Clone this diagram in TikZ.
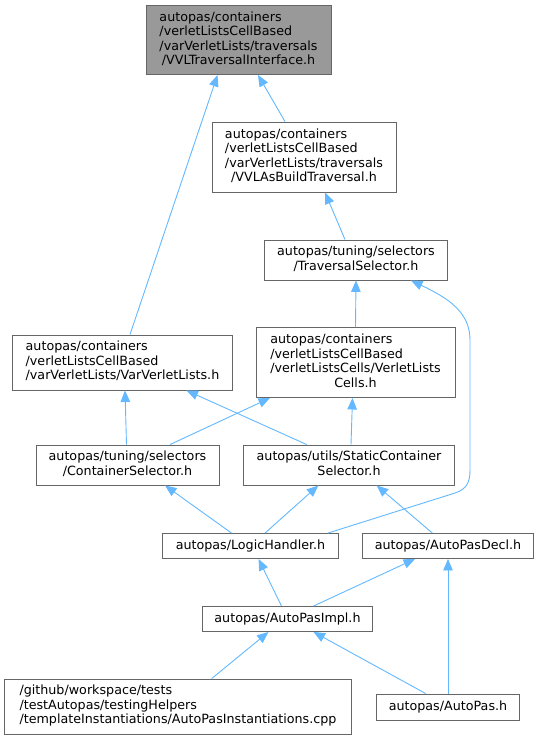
\documentclass[tikz,border=0pt]{standalone}
\usepackage{fontspec}
\setmainfont{DejaVu Sans}
\usetikzlibrary{arrows.meta}
\definecolor{edgeblue}{HTML}{63B8FF}
\definecolor{boxgray}{HTML}{666666}
\definecolor{topfill}{HTML}{999999}
% lines left, last line centred (as doxygen sets them)
\newcommand{\fname}[2]{\begin{tabular}{@{}l@{}}#1\\\multicolumn{1}{@{}c@{}}{#2}\end{tabular}}

\begin{document}
\begin{tikzpicture}[x=1pt, y=-1pt, line width=0.9pt,
  file/.style={draw=boxgray, fill=white, inner sep=0pt, font=\fontsize{12.7}{14.5}\selectfont},
  dep/.style={draw=edgeblue, ->, >={Triangle[length=11.5pt,width=9.5pt]}}]
  \useasboundingbox (0,0) rectangle (539,740);
  % files
  \node[file, fill=topfill, minimum width=185pt, minimum height=69pt] (vvlti) at (238.5,40)
    {\fname{autopas/containers\\/verletListsCellBased\\/varVerletLists/traversals}{/VVLTraversalInterface.h}};
  \node[file, minimum width=184pt, minimum height=70pt] (vvlas) at (304,157)
    {\fname{autopas/containers\\/verletListsCellBased\\/varVerletLists/traversals}{/VVLAsBuildTraversal.h}};
  \node[file, minimum width=183pt, minimum height=40pt] (tsel) at (356,260)
    {\fname{autopas/tuning/selectors}{/TraversalSelector.h}};
  \node[file, minimum width=199pt, minimum height=70pt] (vlc) at (355.5,362.5)
    {\fname{autopas/containers\\/verletListsCellBased\\/verletListsCells/VerletLists}{Cells.h}};
  \node[file, minimum width=220pt, minimum height=55pt] (vvl) at (122.5,362.5)
    {\fname{autopas/containers\\/verletListsCellBased}{/varVerletLists/VarVerletLists.h}};
  \node[file, minimum width=183pt, minimum height=40pt] (csel) at (127.5,465)
    {\fname{autopas/tuning/selectors}{/ContainerSelector.h}};
  \node[file, minimum width=211pt, minimum height=40pt] (scsel) at (349,465)
    {\fname{autopas/utils/StaticContainer}{Selector.h}};
  \node[file, minimum width=176pt, minimum height=25pt] (lh) at (250.5,546) {autopas/LogicHandler.h};
  \node[file, minimum width=171pt, minimum height=25pt] (decl) at (448,546) {autopas/AutoPasDecl.h};
  \node[file, minimum width=170pt, minimum height=25pt] (impl) at (287.5,619) {autopas/AutoPasImpl.h};
  \node[file, minimum width=347pt, minimum height=55pt] (inst) at (178,706.5)
    {\fname{/github/workspace/tests\\/testAutopas/testingHelpers}{/templateInstantiations/AutoPasInstantiations.cpp}};
  \node[file, minimum width=143pt, minimum height=26pt] (ap) at (448,707) {autopas/AutoPas.h};
  % includes
  \draw[dep] ([xshift=-19pt]vvlas.north) -- ([xshift=19.5pt]vvlti.south);
  \draw[dep] ([xshift=7.5pt]vvl.north) -- ([xshift=-21pt]vvlti.south);
  \draw[dep] ([xshift=-11pt]tsel.north) -- ([xshift=21pt]vvlas.south);
  \draw[dep] (vlc.north) -- (tsel.south);
  \draw[dep] ([xshift=77.5pt]lh.north) -- (455,493) .. controls (467,489) and (470,482) .. (470,470)
    -- (470,340) .. controls (470,312) and (448,298) .. ([xshift=55pt]tsel.south);
  \draw[dep] ([xshift=42.5pt]csel.north) -- ([xshift=-85.5pt]vlc.south);
  \draw[dep] ([xshift=2pt]scsel.north) -- ([xshift=-3pt]vlc.south);
  \draw[dep] ([xshift=-1pt]csel.north) -- ([xshift=2.5pt]vvl.south);
  \draw[dep] ([xshift=-42.3pt]scsel.north) -- ([xshift=64pt]vvl.south);
  \draw[dep] ([xshift=-19pt]lh.north) -- ([xshift=37.5pt]csel.south);
  \draw[dep] ([xshift=14.5pt]lh.north) -- ([xshift=-30.7pt]scsel.south);
  \draw[dep] ([xshift=-15.7pt]decl.north) -- ([xshift=27.7pt]scsel.south);
  \draw[dep] ([xshift=-6pt]impl.north) -- ([xshift=8pt]lh.south);
  \draw[dep] ([xshift=26pt]impl.north) -- ([xshift=-33pt]decl.south);
  \draw[dep] (ap.north) -- (decl.south);
  \draw[dep] ([xshift=33.7pt]inst.north) -- ([xshift=-19pt]impl.south);
  \draw[dep] ([xshift=-22.3pt]ap.north) -- ([xshift=26pt]impl.south);
\end{tikzpicture}
\end{document}
